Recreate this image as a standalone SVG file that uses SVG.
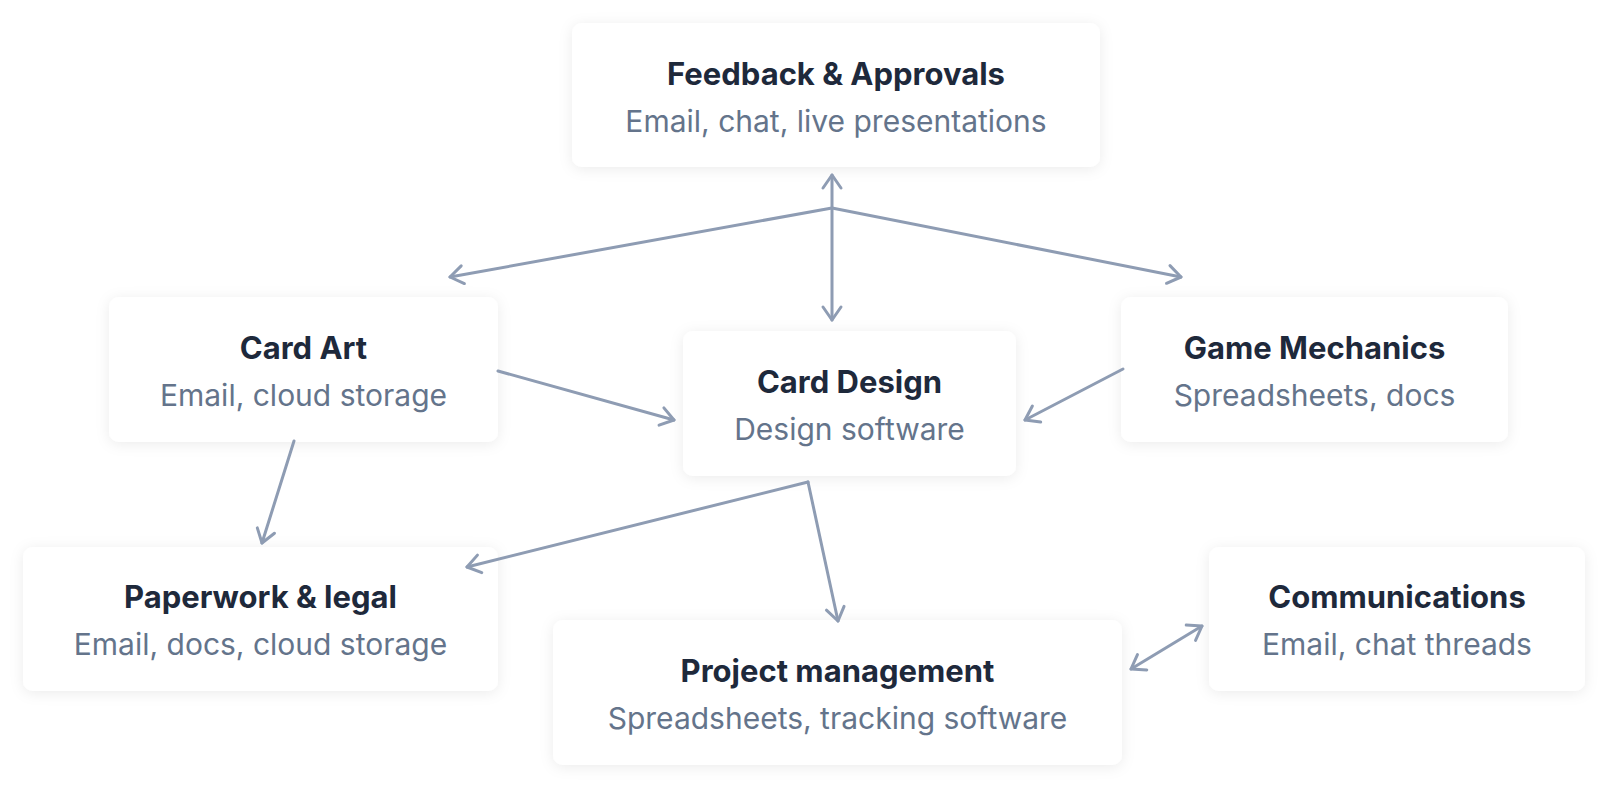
<svg xmlns="http://www.w3.org/2000/svg" width="1608" height="790" viewBox="0 0 1608 790">
<defs>
<filter id="sh" x="-10%" y="-20%" width="120%" height="140%">
<feDropShadow dx="0" dy="2" stdDeviation="7" flood-color="#0f172a" flood-opacity="0.08"/>
</filter>
<marker id="ah" viewBox="-16 -12 20 24" refX="0" refY="0" markerWidth="20" markerHeight="24" markerUnits="userSpaceOnUse" orient="auto-start-reverse">
<path d="M -13 -9 L 0 0 L -13 9" fill="none" stroke="#8e9cb3" stroke-width="3" stroke-linecap="round" stroke-linejoin="round"/>
</marker>
</defs>
<style>
.box{fill:#ffffff;filter:url(#sh)}
.t{font-family:Inter,"Noto Sans",sans-serif;font-weight:700;font-size:31px;fill:#1e293b;text-anchor:middle}
.s{font-family:Inter,"Noto Sans",sans-serif;font-weight:400;font-size:30px;fill:#64748b;text-anchor:middle}
.c{fill:none;stroke:#8e9cb3;stroke-width:3;stroke-linecap:round}
</style>
<rect width="1608" height="790" fill="#ffffff"/>
<g id="feedback">
<rect class="box" x="572" y="23" width="528" height="144" rx="10"/>
<text class="t" x="836" y="85">Feedback &amp; Approvals</text>
<text class="s" x="836" y="132">Email, chat, live presentations</text>
</g>
<g id="card-art">
<rect class="box" x="109" y="297" width="389" height="145" rx="10"/>
<text class="t" x="303.5" y="359">Card Art</text>
<text class="s" x="303.5" y="406">Email, cloud storage</text>
</g>
<g id="card-design">
<rect class="box" x="683" y="331" width="333" height="145" rx="10"/>
<text class="t" x="849.5" y="393">Card Design</text>
<text class="s" x="849.5" y="440">Design software</text>
</g>
<g id="game-mechanics">
<rect class="box" x="1121" y="297" width="387" height="145" rx="10"/>
<text class="t" x="1314.5" y="359">Game Mechanics</text>
<text class="s" x="1314.5" y="406">Spreadsheets, docs</text>
</g>
<g id="paperwork">
<rect class="box" x="23" y="547" width="475" height="144" rx="10"/>
<text class="t" x="260.5" y="608">Paperwork &amp; legal</text>
<text class="s" x="260.5" y="655">Email, docs, cloud storage</text>
</g>
<g id="project-management">
<rect class="box" x="553" y="620" width="569" height="145" rx="10"/>
<text class="t" x="837.5" y="682">Project management</text>
<text class="s" x="837.5" y="729">Spreadsheets, tracking software</text>
</g>
<g id="communications">
<rect class="box" x="1209" y="547" width="376" height="144" rx="10"/>
<text class="t" x="1397" y="608">Communications</text>
<text class="s" x="1397" y="655">Email, chat threads</text>
</g>
<g id="connectors">
<line class="c" x1="832" y1="175" x2="832" y2="320" marker-start="url(#ah)" marker-end="url(#ah)"/>
<line class="c" x1="832" y1="208" x2="450" y2="277" marker-end="url(#ah)"/>
<line class="c" x1="832" y1="208" x2="1181" y2="277" marker-end="url(#ah)"/>
<line class="c" x1="498" y1="371" x2="674" y2="420" marker-end="url(#ah)"/>
<line class="c" x1="1123" y1="369" x2="1025" y2="420" marker-end="url(#ah)"/>
<line class="c" x1="294" y1="441" x2="262" y2="543" marker-end="url(#ah)"/>
<line class="c" x1="808" y1="482" x2="467" y2="567" marker-end="url(#ah)"/>
<line class="c" x1="808" y1="482" x2="838" y2="621" marker-end="url(#ah)"/>
<line class="c" x1="1131" y1="669" x2="1202" y2="626" marker-start="url(#ah)" marker-end="url(#ah)"/>
</g>
</svg>
